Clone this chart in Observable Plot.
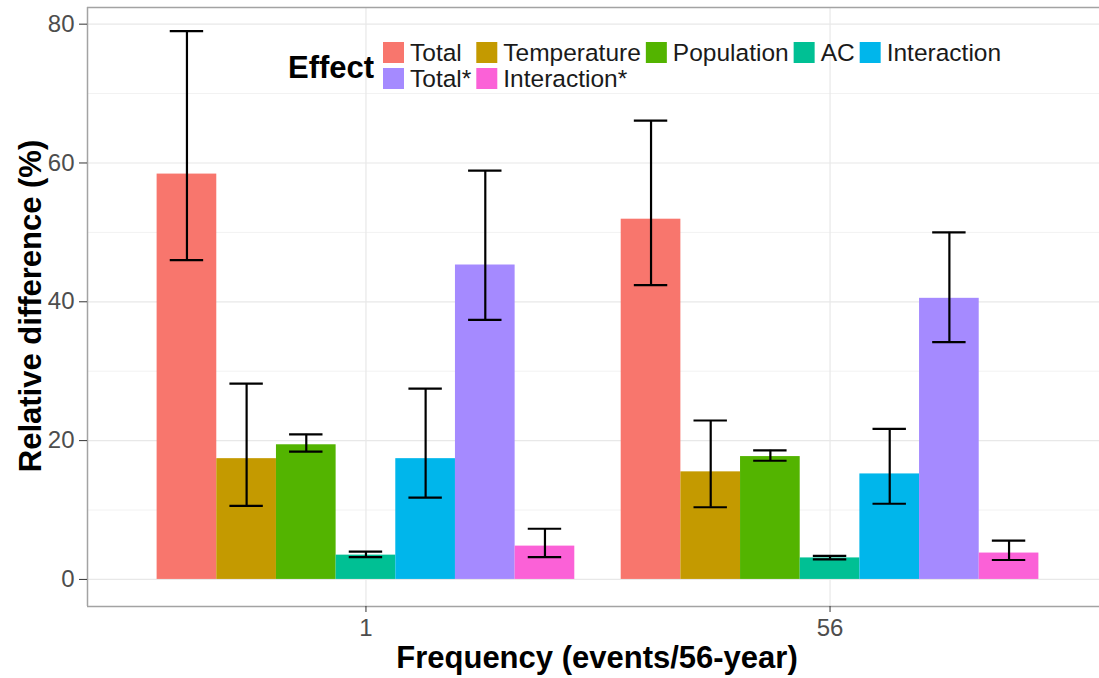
<!DOCTYPE html>
<html><head><meta charset="utf-8">
<script src="https://cdn.jsdelivr.net/npm/d3@7"></script>
<script src="https://cdn.jsdelivr.net/npm/@observablehq/plot@0.6"></script>
<style>
body{margin:0;background:#fff;}
#chart{position:relative;width:1099px;height:678px;overflow:hidden;}
</style></head><body><div id="chart"></div>
<script>
// ---- data ----
const freqLabels = ["1", "56"];
const effects = ["Total", "Temperature", "Population", "AC", "Interaction", "Total*", "Interaction*"];
const colors = ["#F8766D", "#C49A00", "#53B400", "#00C094", "#00B6EB", "#A58AFF", "#FB61D7"];
const values1  = [58.4, 17.4, 19.4, 3.5, 17.4, 45.3, 4.8];
const lower1   = [46.0, 10.6, 18.4, 3.2, 11.8, 37.4, 3.2];
const upper1   = [79.0, 28.2, 20.9, 4.0, 27.5, 58.9, 7.3];
const values56 = [51.9, 15.5, 17.7, 3.1, 15.2, 40.5, 3.8];
const lower56  = [42.4, 10.4, 17.1, 2.9, 10.9, 34.2, 2.8];
const upper56  = [66.1, 22.9, 18.6, 3.4, 21.7, 50.0, 5.6];
const yTicks = [0, 20, 40, 60, 80];
const yMinor = [10, 30, 50, 70];
const xDomain = [0.4, 2.6];
const yDomain = [-3.9, 82.4];
const xTitle = "Frequency (events/56-year)";
const yTitle = "Relative difference (%)";
const legendTitle = "Effect";

(function () {
// ---- build table ----
const rows = [];
[[values1, lower1, upper1], [values56, lower56, upper56]].forEach(([v, lo, hi], g) => {
  effects.forEach((e, i) => rows.push({group: g + 1, effect: e, idx: i, value: v[i], lower: lo[i], upper: hi[i]}));
});
const dodge = 0.9 / effects.length;
const cap = 0.036;
const xc = d => d.group + (d.idx - (effects.length - 1) / 2) * dodge;
const groupPos = freqLabels.map((f, i) => i + 1);

const FONT = "'Liberation Sans', Arial, Helvetica, sans-serif";
const BORDER = "#a3a3a3";

const plot = Plot.plot({
  width: 1099, height: 678,
  marginLeft: 87, marginRight: -9, marginTop: 7, marginBottom: 72,
  style: {fontFamily: FONT, background: "white", overflow: "visible"},
  x: {domain: xDomain, axis: null},
  y: {domain: yDomain, axis: null},
  color: {domain: effects, range: colors},
  marks: [
    Plot.ruleY(yMinor, {stroke: "#f2f2f2", strokeWidth: 1}),
    Plot.ruleY(yTicks, {stroke: "#e8e8e8", strokeWidth: 1.2}),
    Plot.ruleX(groupPos, {stroke: "#e8e8e8", strokeWidth: 1.2}),
    Plot.rect(rows, {x1: d => xc(d) - dodge / 2, x2: d => xc(d) + dodge / 2, y1: 0, y2: "value", fill: "effect"}),
    Plot.ruleX(rows, {x: xc, y1: "lower", y2: "upper", stroke: "black", strokeWidth: 2.2}),
    Plot.ruleY(rows, {y: "upper", x1: d => xc(d) - cap, x2: d => xc(d) + cap, stroke: "black", strokeWidth: 2.2}),
    Plot.ruleY(rows, {y: "lower", x1: d => xc(d) - cap, x2: d => xc(d) + cap, stroke: "black", strokeWidth: 2.2}),
    Plot.ruleY(yDomain, {stroke: BORDER, strokeWidth: 1.5}),
    Plot.ruleX([xDomain[0]], {stroke: BORDER, strokeWidth: 1.5}),
    Plot.axisY(yTicks, {tickSize: 8, tickPadding: 5, fontSize: 24, label: null, anchor: "left"}),
    Plot.axisX(groupPos, {tickSize: 6, tickPadding: 6, fontSize: 24, label: null, anchor: "bottom",
      tickFormat: d => freqLabels[groupPos.indexOf(d)]})
  ]
});
document.getElementById("chart").appendChild(plot);

const svg = d3.select(plot);
svg.selectAll('g[aria-label="y-axis tick"], g[aria-label="x-axis tick"]').attr("stroke", "#333");
svg.selectAll('g[aria-label="y-axis tick label"], g[aria-label="x-axis tick label"]').attr("fill", "#4d4d4d");

// axis titles
svg.append("text").attr("x", 597).attr("y", 668).attr("text-anchor", "middle")
  .attr("font-family", FONT).attr("font-weight", "bold").attr("font-size", 31).attr("fill", "black").text(xTitle);
svg.append("text").attr("transform", "translate(41,306) rotate(-90)").attr("text-anchor", "middle")
  .attr("font-family", FONT).attr("font-weight", "bold").attr("font-size", 31).attr("fill", "black").text(yTitle);

// legend
const lg = svg.append("g").attr("font-family", FONT).attr("text-anchor", "start");
lg.append("text").attr("x", 288).attr("y", 78).attr("text-anchor", "start").attr("font-weight", "bold").attr("font-size", 31).text(legendTitle);
const ncol = 5, key = 21, rowStep = 26, keyTop = 42, lfs = 24.5, gapKL = 6, gapCol = 5;
const measure = lg.append("text").attr("font-size", lfs).attr("text-anchor", "start");
const widths = effects.map(e => { measure.text(e); return measure.node().getComputedTextLength(); });
measure.remove();
const colW = d3.range(ncol).map(j => d3.max(effects.map((e, i) => i % ncol === j ? widths[i] : 0)));
const colX = [383];
for (let j = 1; j < ncol; j++) colX.push(colX[j - 1] + key + gapKL + colW[j - 1] + gapCol);
effects.forEach((e, i) => {
  const c = i % ncol, r = Math.floor(i / ncol);
  const x = colX[c], y = keyTop + r * rowStep;
  lg.append("rect").attr("x", x).attr("y", y).attr("width", key).attr("height", key).attr("fill", colors[i]);
  lg.append("text").attr("x", x + key + gapKL).attr("y", y + key / 2 + 0.36 * lfs).attr("text-anchor", "start")
    .attr("font-size", lfs).attr("fill", "#1a1a1a").text(e);
});
})();
</script></body></html>
